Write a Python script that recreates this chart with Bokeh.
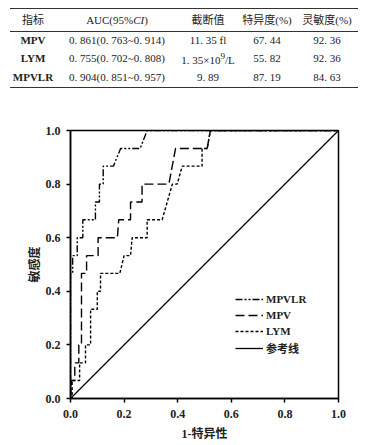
from bokeh.plotting import figure
from bokeh.models import Div, Legend, LegendItem, Range1d, PrintfTickFormatter
from bokeh.layouts import column
from bokeh.embed import file_html
from bokeh.resources import INLINE

# ---- table data ----
table_header = ["指标", "AUC(95%<i>CI</i>)", "截断值", "特异度(%)", "灵敏度(%)"]
markers = ["MPV", "LYM", "MPVLR"]
auc_ci = ["0. 861(0. 763~0. 914)", "0. 755(0. 702~0. 808)", "0. 904(0. 851~0. 957)"]
cutoffs = ["11. 35 fl", "1. 35×10<sup>9</sup>/L", "9. 89"]
specificity = ["67. 44", "55. 82", "87. 19"]
sensitivity = ["92. 36", "92. 36", "84. 63"]

# ---- ROC data (1-specificity, sensitivity) ----
mpvlr_fpr = [0, 0, 0.008, 0.008, 0.025, 0.025, 0.046, 0.046, 0.093, 0.093, 0.108, 0.108,
             0.122, 0.122, 0.16, 0.187, 0.26, 0.286, 1.0]
mpvlr_tpr = [0, 0.467, 0.467, 0.533, 0.533, 0.6, 0.6, 0.667, 0.667, 0.733, 0.733, 0.8,
             0.8, 0.867, 0.867, 0.933, 0.933, 1.0, 1.0]

mpv_fpr = [0, 0.004, 0.016, 0.016, 0.031, 0.031, 0.041, 0.041, 0.06, 0.06, 0.103, 0.103,
           0.175, 0.18, 0.224, 0.224, 0.267, 0.267, 0.367, 0.392, 0.51, 0.522, 1.0]
mpv_tpr = [0, 0.067, 0.067, 0.133, 0.133, 0.2, 0.2, 0.467, 0.467, 0.533, 0.533, 0.6,
           0.6, 0.667, 0.667, 0.733, 0.733, 0.8, 0.8, 0.933, 0.933, 1.0, 1.0]

lym_fpr = [0, 0.006, 0.006, 0.034, 0.034, 0.056, 0.056, 0.075, 0.075, 0.1, 0.1, 0.112, 0.112,
           0.184, 0.2, 0.224, 0.23, 0.286, 0.286, 0.342, 0.38, 0.398, 0.417, 0.491, 0.491,
           0.51, 0.522, 1.0]
lym_tpr = [0, 0, 0.067, 0.067, 0.133, 0.133, 0.2, 0.2, 0.333, 0.333, 0.4, 0.4, 0.467,
           0.467, 0.533, 0.533, 0.6, 0.6, 0.667, 0.667, 0.8, 0.8, 0.867, 0.867, 0.933,
           0.933, 1.0, 1.0]

ref_x = [0, 1]
ref_y = [0, 1]

axis_ticks = [0, 0.2, 0.4, 0.6, 0.8, 1.0]
legend_labels = ["MPVLR", "MPV", "LYM", "参考线"]

# ---- table as HTML ----
font_stack = "'Liberation Serif','Noto Sans CJK SC',serif"
widths = [46, 122, 60, 58, 62]
cols = "".join(f'<col style="width:{w}px">' for w in widths)
th = "".join(f'<td style="padding:0;height:23px;vertical-align:middle;padding-top:2px">{h}</td>'
             for h in table_header)
rows = ""
for i in range(len(markers)):
    cells = [f"<b>{markers[i]}</b>", auc_ci[i], cutoffs[i], specificity[i], sensitivity[i]]
    rows += "<tr>" + "".join(
        f'<td style="padding:0;height:18.5px;vertical-align:middle">{c}</td>' for c in cells) + "</tr>"
html = f"""
<table style="border-collapse:collapse;table-layout:fixed;width:348px;margin-left:2px;
 font-family:{font_stack};font-size:11px;color:#222;text-align:center;white-space:nowrap;
 border-top:1.5px solid #333;border-bottom:1.5px solid #333;">
<colgroup>{cols}</colgroup>
<tr style="border-bottom:0.8px solid #333">{th}</tr>
{rows}
</table>
"""
div = Div(text=html, width=351, height=100, margin=(8, 0, 0, 8))

# ---- ROC figure ----
p = figure(frame_width=268, frame_height=268,
           x_range=Range1d(0, 1), y_range=Range1d(0, 1),
           output_backend="svg", toolbar_location=None,
           min_border_left=62, min_border_right=21, min_border_top=22, min_border_bottom=39,
           margin=(0, 0, 0, 8))
p.grid.visible = False
p.outline_line_color = "black"
p.outline_line_width = 1.5
p.outline_line_alpha = 1

r1 = p.line(mpvlr_fpr, mpvlr_tpr, line_color="black", line_width=1.4, line_dash="7 2 2 2 2 2")
r2 = p.line(mpv_fpr, mpv_tpr, line_color="black", line_width=1.4, line_dash="9 4")
r3 = p.line(lym_fpr, lym_tpr, line_color="black", line_width=1.4, line_dash="3 2")
r4 = p.line(ref_x, ref_y, line_color="black", line_width=1.3)

for ax in (p.xaxis[0], p.yaxis[0]):
    ax.ticker = axis_ticks
    ax.formatter = PrintfTickFormatter(format="%.1f")
    ax.axis_line_width = 1.5
    ax.major_tick_line_width = 1.5
    ax.major_tick_out = 4
    ax.major_tick_in = 0
    ax.minor_tick_out = 0
    ax.minor_tick_in = 0
    ax.major_label_text_font = "Liberation Serif"
    ax.major_label_text_font_style = "bold"
    ax.major_label_text_font_size = "12px"
    ax.major_label_text_color = "#222"
    ax.axis_label_text_font = "Liberation Serif, Noto Sans CJK SC"
    ax.axis_label_text_font_style = "bold"
    ax.axis_label_text_font_size = "12px"
    ax.axis_label_text_color = "#222"

p.xaxis.axis_label = "1-特异性"
p.yaxis.axis_label = "敏感度"
p.xaxis.major_label_standoff = 7
p.yaxis.major_label_standoff = 6
p.xaxis.axis_label_standoff = 6
p.yaxis.axis_label_standoff = 1

legend = Legend(items=[LegendItem(label=legend_labels[0], renderers=[r1]),
                       LegendItem(label=legend_labels[1], renderers=[r2]),
                       LegendItem(label=legend_labels[2], renderers=[r3]),
                       LegendItem(label=legend_labels[3], renderers=[r4])],
                location=(165, 42), glyph_width=28, glyph_height=14, spacing=2,
                label_standoff=3, padding=0, margin=0,
                background_fill_alpha=0, border_line_alpha=0,
                label_text_font="Liberation Serif, Noto Sans CJK SC",
                label_text_font_style="bold", label_text_font_size="11px",
                label_text_color="#222")
p.add_layout(legend)

layout = column(div, p, spacing=0)
open("out.html", "w").write(file_html(layout, INLINE))
